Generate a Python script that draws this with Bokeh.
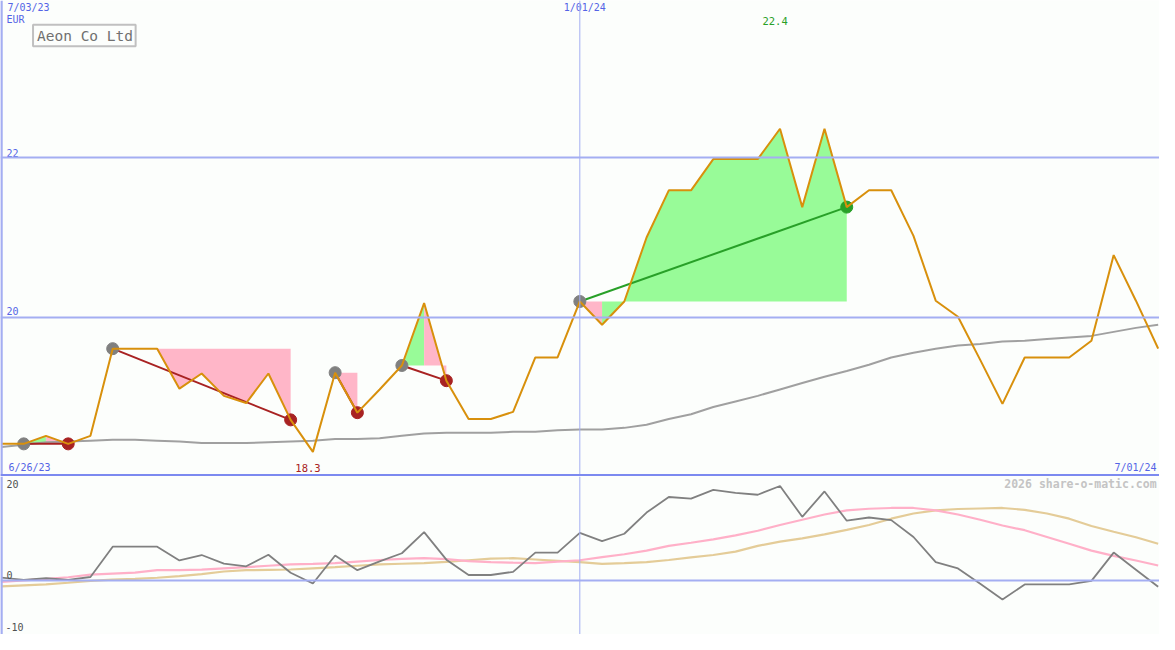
from bokeh.plotting import figure
from bokeh.layouts import column
from bokeh.models import Span, Range1d
from bokeh.core.properties import value
from bokeh.embed import file_html
from bokeh.resources import INLINE

# ---------------- data (weekly, 7/03/23 .. 7/01/24) ----------------
weeks = list(range(53))
price = [18.42, 18.42, 18.52, 18.42, 18.52, 19.61, 19.61, 19.61, 19.11, 19.30,
         19.02, 18.93, 19.30, 18.72, 18.32, 19.31, 18.81, 19.10, 19.40, 20.18,
         19.21, 18.73, 18.73, 18.82, 19.50, 19.50, 20.20, 19.91, 20.20, 21.00,
         21.59, 21.59, 21.98, 21.98, 21.98, 22.36, 21.38, 22.36, 21.38, 21.59,
         21.59, 21.02, 20.21, 20.01, 19.47, 18.92, 19.50, 19.50, 19.50, 19.71,
         20.78, 20.21, 19.61]
price_ma = [18.38, 18.41, 18.44, 18.45, 18.46, 18.47, 18.47, 18.46, 18.45, 18.43,
            18.43, 18.43, 18.44, 18.45, 18.46, 18.48, 18.48, 18.49, 18.52, 18.55,
            18.56, 18.56, 18.56, 18.57, 18.57, 18.59, 18.60, 18.60, 18.62, 18.66,
            18.73, 18.79, 18.88, 18.95, 19.02, 19.10, 19.18, 19.26, 19.33, 19.41,
            19.50, 19.56, 19.61, 19.65, 19.67, 19.70, 19.71, 19.73, 19.75, 19.77,
            19.82, 19.87, 19.91]
momentum = [0.52, 0.10, 0.41, 0.10, 0.65, 6.44, 6.44, 6.44, 3.82, 4.85,
            3.21, 2.70, 4.89, 1.46, -0.60, 4.76, 1.96, 3.64, 5.19, 9.24,
            3.96, 1.03, 1.03, 1.64, 5.32, 5.32, 9.10, 7.50, 8.92, 12.97,
            15.95, 15.63, 17.31, 16.75, 16.38, 18.06, 12.16, 17.01, 11.42, 12.03,
            11.53, 8.30, 3.51, 2.28, -0.65, -3.64, -0.78, -0.78, -0.78, -0.09,
            5.32, 2.05, -1.21]
mom_fast = [-0.28, 0.0, 0.28, 0.6, 1.1, 1.3, 1.5, 1.96, 1.96, 2.05,
            2.3, 2.52, 2.8, 3.08, 3.17, 3.3, 3.6, 3.9, 4.1, 4.25,
            4.05, 3.7, 3.5, 3.38, 3.32, 3.6, 3.85, 4.45, 5.0, 5.7,
            6.6, 7.2, 7.85, 8.6, 9.5, 10.6, 11.6, 12.6, 13.4, 13.7,
            13.85, 13.85, 13.4, 12.6, 11.6, 10.5, 9.6, 8.3, 7.0, 5.7,
            4.7, 3.8, 2.84]
mom_slow = [-1.16, -0.95, -0.75, -0.45, -0.1, 0.15, 0.3, 0.5, 0.8, 1.2,
            1.7, 1.95, 2.02, 2.08, 2.3, 2.52, 2.8, 3.05, 3.18, 3.3,
            3.55, 3.85, 4.15, 4.25, 4.0, 3.75, 3.5, 3.15, 3.3, 3.5,
            3.9, 4.4, 4.85, 5.5, 6.6, 7.4, 8.05, 8.8, 9.65, 10.6,
            11.8, 12.8, 13.4, 13.65, 13.75, 13.85, 13.5, 12.8, 11.8, 10.4,
            9.3, 8.25, 7.0]

# trades (week indices)
entries = [1, 5, 15, 18, 26]
exits = [3, 13, 16, 20, 38]
# shaded segments of each trade
fill_from = [1, 2, 5, 15, 18, 19, 26, 27]
fill_to = [2, 3, 13, 16, 19, 20, 27, 38]
fill_trade = [0, 0, 1, 2, 3, 3, 4, 4]
fill_kind = ["gain", "loss", "loss", "loss", "gain", "loss", "loss", "gain"]

date_labels = ["6/26/23", "7/03/23", "1/01/24", "7/01/24"]
mid_week = 26
price_ticks = [22, 20]
osc_ticks = [20, 0, -10]
title = "Aeon Co Ltd"
currency = "EUR"
watermark = "2026 share-o-matic.com"

# ---------------- style ----------------
BG = "#fcfefc"
GRID = "#a4aef2"
SEP = "#7c8af0"
TXT_BLUE = "#5464e6"
ORANGE = "#d8900c"
GAIN_FILL = "#98fb98"
LOSS_FILL = "#ffb6c8"
RED = "#a82222"
GREEN = "#28a028"
FONT = "DejaVu Sans Mono"

W = 1159
H_TOP = 476
H_BOT = 158
xr = Range1d(-0.044, 52.06)


def tx(px):
    return (px - 1) / 22.55


def ty(px):
    return 20 + (325 - px) / 82.0


def by(px):
    return (594.5 - px) / 5.36


def mkfig(h, yr):
    p = figure(width=W, height=h, x_range=xr, y_range=yr, output_backend="svg",
               toolbar_location=None, x_axis_location=None, y_axis_location=None,
               min_border=0, background_fill_color=BG, border_fill_color=BG,
               outline_line_color=None)
    p.grid.visible = False
    return p


top = mkfig(H_TOP, Range1d(18.012, 23.963))
bot = mkfig(H_BOT, Range1d(-10.35, 19.87))

# ---------------- top panel ----------------
for lv in price_ticks:
    top.add_layout(Span(location=lv, dimension="width", line_color=GRID, line_width=2))
top.add_layout(Span(location=mid_week, dimension="height", line_color=GRID, line_width=1))
top.add_layout(Span(location=tx(1), dimension="height", line_color=GRID, line_width=2.5))
top.add_layout(Span(location=ty(486.8), dimension="width", line_color=SEP, line_width=2.5))

# trade shading
for a, b, t, k in zip(fill_from, fill_to, fill_trade, fill_kind):
    lvl = price[entries[t]]
    xs = weeks[a:b + 1]
    top.varea(x=xs, y1=[lvl] * len(xs), y2=price[a:b + 1],
              fill_color=GAIN_FILL if k == "gain" else LOSS_FILL, fill_alpha=1.0)

top.line(weeks, price_ma, line_color="#a0a0a0", line_width=2)

# trade lines and markers
for e, x in zip(entries, exits):
    col = GREEN if price[x] > price[e] else RED
    top.line([e, x], [price[e], price[x]], line_color=col, line_width=2)
top.scatter([e for e in entries], [price[e] for e in entries], size=12,
            fill_color="#808080", line_color="#808080")
top.scatter(exits, [price[x] for x in exits], size=12,
            fill_color=[GREEN if price[x] > price[e] else RED for e, x in zip(entries, exits)],
            line_color=[GREEN if price[x] > price[e] else RED for e, x in zip(entries, exits)])

top.line(weeks, price, line_color=ORANGE, line_width=2)

# labels
top.text(x=[tx(6)] * 2, y=[ty(156), ty(318)], text=[str(v) for v in price_ticks],
         text_font=value(FONT), text_font_size="10px", text_color=TXT_BLUE,
         text_align="left", text_baseline="middle")
top.text(x=[tx(7), tx(571)], y=[ty(7), ty(7)], text=[date_labels[1], date_labels[2]],
         text_font=value(FONT), text_font_size="10px", text_color=TXT_BLUE,
         text_align="left", text_baseline="middle")
top.text(x=[tx(6)], y=[ty(19)], text=[currency],
         text_font=value(FONT), text_font_size="10px", text_color=TXT_BLUE,
         text_align="left", text_baseline="middle")
top.text(x=[tx(8)], y=[ty(479)], text=[date_labels[0]],
         text_font=value(FONT), text_font_size="10px", text_color=TXT_BLUE,
         text_align="left", text_baseline="middle")
top.text(x=[tx(1172)], y=[ty(479)], text=[date_labels[3]],
         text_font=value(FONT), text_font_size="10px", text_color=TXT_BLUE,
         text_align="right", text_baseline="middle")

imax = price.index(max(price))
imin = price.index(min(price))
top.text(x=[imax - 0.22], y=[ty(21)], text=[f"{max(price):.1f}"],
         text_font=value(FONT), text_font_size="10.5px", text_color=GREEN,
         text_align="center", text_baseline="middle")
top.text(x=[imin - 0.22], y=[ty(479)], text=[f"{min(price):.1f}"],
         text_font=value(FONT), text_font_size="10.5px", text_color=RED,
         text_align="center", text_baseline="middle")

# title box
top.quad(left=[tx(33)], right=[tx(137)], top=[ty(25)], bottom=[ty(47)],
         fill_color=BG, line_color="#c0c0c0", line_width=2)
top.text(x=[tx(37)], y=[ty(36.5)], text=[title], text_font=value(FONT),
         text_font_size="14.5px", text_color="#707070",
         text_align="left", text_baseline="middle")

# ---------------- bottom panel ----------------
bot.add_layout(Span(location=0, dimension="width", line_color=GRID, line_width=2))
bot.add_layout(Span(location=mid_week, dimension="height", line_color=GRID, line_width=1))
bot.add_layout(Span(location=tx(1), dimension="height", line_color=GRID, line_width=2.5))

bot.line(weeks, mom_slow, line_color="#e4cc98", line_width=2.2)
bot.line(weeks, mom_fast, line_color="#ffb0c8", line_width=2.2)
bot.line(weeks, momentum, line_color="#808080", line_width=1.8)

bot.text(x=[tx(6), tx(6), tx(5)], y=[by(496), by(589), by(642)],
         text=[str(v) for v in osc_ticks], text_font=value(FONT),
         text_font_size="10px", text_color="#505050",
         text_align="left", text_baseline="middle")
bot.text(x=[tx(1172)], y=[by(496)], text=[watermark], text_font=value(FONT),
         text_font_size="11.5px", text_font_style="bold", text_color="#c4c4c4",
         text_align="right", text_baseline="middle")

layout = column(top, bot, spacing=0)
open("out.html", "w").write(file_html(layout, INLINE))
